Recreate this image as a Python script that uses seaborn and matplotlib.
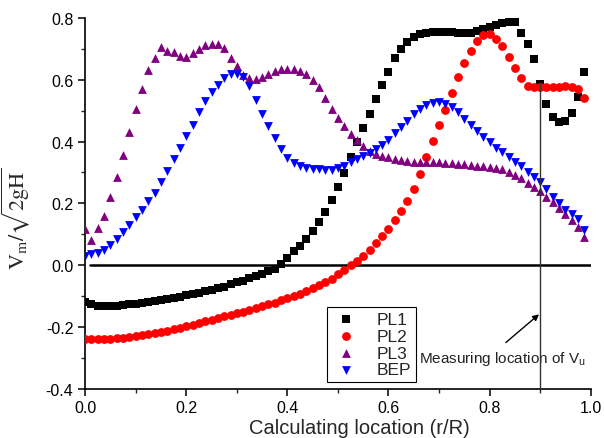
import matplotlib
matplotlib.use("Agg")
import matplotlib.pyplot as plt
import seaborn as sns
import pandas as pd
from matplotlib.ticker import MultipleLocator

# ---------------- data ----------------
r_over_R = [0.0, 0.0125, 0.025, 0.0375, 0.05, 0.0625, 0.075, 0.0875, 0.1, 0.1125,
            0.125, 0.1375, 0.15, 0.1625, 0.175, 0.1875, 0.2, 0.2125, 0.225, 0.2375,
            0.25, 0.2625, 0.275, 0.2875, 0.3, 0.3125, 0.325, 0.3375, 0.35, 0.3625,
            0.375, 0.3875, 0.4, 0.4125, 0.425, 0.4375, 0.45, 0.4625, 0.475, 0.4875,
            0.5, 0.5125, 0.525, 0.5375, 0.55, 0.5625, 0.575, 0.5875, 0.6, 0.6125,
            0.625, 0.6375, 0.65, 0.6625, 0.675, 0.6875, 0.7, 0.7125, 0.725, 0.7375,
            0.75, 0.7625, 0.775, 0.7875, 0.8, 0.8125, 0.825, 0.8375, 0.85, 0.8625,
            0.875, 0.8875, 0.9, 0.9125, 0.925, 0.9375, 0.95, 0.9625, 0.975, 0.9875]

pl1 = [-0.120, -0.127, -0.131, -0.133, -0.133, -0.131, -0.129, -0.126, -0.124, -0.121,
       -0.118, -0.115, -0.112, -0.109, -0.105, -0.102, -0.098, -0.094, -0.090, -0.085,
       -0.080, -0.075, -0.069, -0.062, -0.056, -0.050, -0.043, -0.036, -0.028, -0.020,
       -0.011, 0.003, 0.022, 0.047, 0.063, 0.084, 0.111, 0.139, 0.172, 0.210,
       0.252, 0.298, 0.350, 0.397, 0.444, 0.490, 0.538, 0.584, 0.626, 0.670,
       0.698, 0.723, 0.739, 0.748, 0.751, 0.753, 0.753, 0.753, 0.753, 0.752,
       0.752, 0.751, 0.757, 0.763, 0.770, 0.777, 0.785, 0.788, 0.786, 0.751,
       0.717, 0.666, 0.585, 0.520, 0.480, 0.462, 0.465, 0.492, 0.545, 0.625]

pl2 = [-0.240, -0.240, -0.239, -0.239, -0.238, -0.236, -0.234, -0.232, -0.229, -0.226,
       -0.223, -0.219, -0.216, -0.212, -0.208, -0.203, -0.198, -0.193, -0.188, -0.182,
       -0.176, -0.171, -0.166, -0.160, -0.155, -0.150, -0.145, -0.139, -0.133, -0.127,
       -0.121, -0.114, -0.107, -0.100, -0.092, -0.082, -0.073, -0.064, -0.054, -0.044,
       -0.030, -0.015, -0.001, 0.015, 0.031, 0.048, 0.072, 0.095, 0.118, 0.146,
       0.176, 0.207, 0.248, 0.296, 0.350, 0.401, 0.452, 0.503, 0.557, 0.610,
       0.653, 0.692, 0.725, 0.743, 0.747, 0.733, 0.708, 0.673, 0.637, 0.604,
       0.580, 0.576, 0.575, 0.575, 0.576, 0.578, 0.580, 0.578, 0.569, 0.540]

pl3 = [0.117, 0.080, 0.120, 0.160, 0.220, 0.285, 0.355, 0.430, 0.505, 0.570,
       0.632, 0.670, 0.705, 0.694, 0.690, 0.678, 0.675, 0.685, 0.700, 0.712,
       0.716, 0.714, 0.703, 0.670, 0.643, 0.615, 0.604, 0.602, 0.610, 0.620,
       0.628, 0.634, 0.636, 0.634, 0.628, 0.617, 0.600, 0.575, 0.540, 0.505,
       0.475, 0.450, 0.424, 0.405, 0.386, 0.370, 0.360, 0.353, 0.349, 0.345,
       0.340, 0.336, 0.334, 0.333, 0.333, 0.333, 0.333, 0.332, 0.330, 0.328,
       0.326, 0.324, 0.322, 0.320, 0.317, 0.314, 0.310, 0.303, 0.293, 0.282,
       0.267, 0.254, 0.240, 0.222, 0.203, 0.185, 0.165, 0.145, 0.125, 0.090]

bep = [0.030, 0.035, 0.041, 0.050, 0.065, 0.085, 0.108, 0.130, 0.155, 0.180,
       0.207, 0.235, 0.268, 0.305, 0.343, 0.380, 0.418, 0.455, 0.495, 0.530,
       0.560, 0.582, 0.605, 0.617, 0.620, 0.608, 0.580, 0.535, 0.490, 0.450,
       0.410, 0.375, 0.348, 0.330, 0.320, 0.315, 0.312, 0.310, 0.308, 0.308,
       0.313, 0.320, 0.333, 0.343, 0.353, 0.364, 0.375, 0.390, 0.405, 0.428,
       0.448, 0.468, 0.488, 0.505, 0.517, 0.524, 0.527, 0.523, 0.512, 0.495,
       0.472, 0.452, 0.435, 0.415, 0.398, 0.380, 0.366, 0.350, 0.335, 0.320,
       0.303, 0.285, 0.268, 0.245, 0.222, 0.200, 0.180, 0.165, 0.148, 0.115]

series_names = ["PL1", "PL2", "PL3", "BEP"]
series_values = [pl1, pl2, pl3, bep]
series_colors = ["#000000", "#FF0000", "#800080", "#0000FF"]
series_markers = ["s", "o", "^", "v"]

measure_x = 0.9          # measuring location of Vu (r/R)
measure_top = 0.585      # top of the vertical marker line

# ---------------- style ----------------
sns.set_style("ticks")
plt.rcParams["font.family"] = ["Liberation Sans", "DejaVu Sans"]
plt.rcParams["mathtext.fontset"] = "stix"

fig = plt.figure(figsize=(6.04, 4.39), dpi=100)
ax = fig.add_axes([0.141, 0.112, 0.837, 0.845])

for name, vals, col, mk in zip(series_names, series_values, series_colors, series_markers):
    df = pd.DataFrame({"r": r_over_R, "v": vals})
    sns.scatterplot(data=df, x="r", y="v", ax=ax, color=col, marker=mk,
                    s=40, linewidth=0, label=name, zorder=3)

# reference lines
ax.plot([0.01, 1.0], [0, 0], color="black", lw=1.8, zorder=2)
ax.plot([measure_x, measure_x], [-0.4, measure_top], color="#333333", lw=1.0, zorder=4)

ax.annotate("", xy=(0.902, -0.153), xytext=(0.828, -0.256),
            arrowprops=dict(arrowstyle="-|>", color="black", lw=1.0,
                            mutation_scale=9))
ax.text(0.660, -0.301, r"Measuring location of V$_\mathregular{u}$",
        fontsize=11, va="center", ha="left", color="#222222")

ax.set_xlim(0, 1.0)
ax.set_ylim(-0.4, 0.8)
ax.xaxis.set_major_locator(MultipleLocator(0.2))
ax.xaxis.set_minor_locator(MultipleLocator(0.1))
ax.yaxis.set_major_locator(MultipleLocator(0.2))
ax.yaxis.set_minor_locator(MultipleLocator(0.1))
ax.xaxis.set_major_formatter(plt.FuncFormatter(lambda v, p: f"{v:.1f}"))
ax.yaxis.set_major_formatter(plt.FuncFormatter(lambda v, p: f"{v:.1f}"))
ax.tick_params(axis="both", which="major", direction="out", length=5, width=1.1,
               labelsize=11.5, colors="black")
ax.tick_params(axis="x", which="major", pad=3)
ax.tick_params(axis="both", which="minor", direction="out", length=3, width=1.0)

sns.despine(ax=ax)
for sp in ["left", "bottom"]:
    ax.spines[sp].set_linewidth(1.2)
    ax.spines[sp].set_color("black")

ax.set_xlabel("Calculating location (r/R)", fontsize=14.5)
ax.xaxis.set_label_coords(0.542, -0.079)
ax.set_ylabel(r"$\mathrm{V_m/\sqrt{2gH}}$", fontsize=16)
ax.yaxis.set_label_coords(-0.105, 0.46)

leg = ax.legend(loc="lower left", bbox_to_anchor=(0.479, 0.019), fontsize=12.5,
                frameon=True, fancybox=False, edgecolor="black", framealpha=1,
                borderpad=0.25, labelspacing=0.1, handletextpad=1.0,
                handlelength=1.6, borderaxespad=0)
leg.get_frame().set_linewidth(0.8)

fig.savefig("out.png", dpi=100)
